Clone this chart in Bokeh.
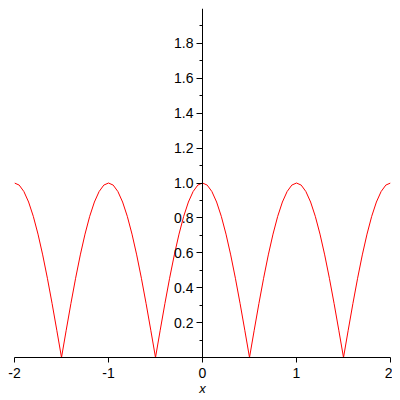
from bokeh.plotting import figure
from bokeh.models import LinearAxis, FixedTicker
from bokeh.embed import file_html
from bokeh.resources import INLINE

# curve values (x step 0.05 from -2 to 2)
xs = [round(-2 + 0.05 * i, 2) for i in range(81)]
period = [1.0, 0.988, 0.951, 0.891, 0.809, 0.707, 0.588, 0.454, 0.309, 0.156, 0.0,
          0.156, 0.309, 0.454, 0.588, 0.707, 0.809, 0.891, 0.951, 0.988]
ys = period * 4 + [1.0]

x_ticks = [-2, -1, 0, 1, 2]
x_labels = ["-2", "-1", "0", "1", "2"]
y_ticks = [0.2, 0.4, 0.6, 0.8, 1.0, 1.2, 1.4, 1.6, 1.8]
y_labels = ["0.2", "0.4", "0.6", "0.8", "1.0", "1.2", "1.4", "1.6", "1.8"]
y_minor = [0.1, 0.3, 0.5, 0.7, 0.9, 1.1, 1.3, 1.5, 1.7, 1.9]

FONT = "Liberation Sans"

p = figure(frame_width=376, frame_height=349, x_range=(-2, 2), y_range=(0, 2),
           output_backend="svg", toolbar_location=None, y_axis_location=None,
           min_border_left=14, min_border_right=2, min_border_top=8, min_border_bottom=0)
p.grid.visible = False
p.outline_line_color = None
p.background_fill_color = "white"
p.border_fill_color = "white"

p.line(xs, ys, line_color="#ff0000", line_width=1)

xa = p.xaxis[0]
xa.ticker = FixedTicker(ticks=x_ticks, minor_ticks=[])
xa.major_label_overrides = dict(zip(x_ticks, x_labels))
xa.major_tick_out = 5
xa.major_tick_in = 0
xa.minor_tick_out = 0
xa.minor_tick_in = 0
xa.axis_line_color = "black"
xa.major_tick_line_color = "black"
xa.major_label_text_font = FONT
xa.major_label_text_font_size = "14px"
xa.major_label_text_color = "black"
xa.major_label_standoff = 5
xa.axis_label = "x"
xa.axis_label_text_font = FONT
xa.axis_label_text_font_style = "italic"
xa.axis_label_text_font_size = "13px"
xa.axis_label_text_color = "black"
xa.axis_label_standoff = 0

ya = LinearAxis(fixed_location=0)
ya.ticker = FixedTicker(ticks=y_ticks, minor_ticks=y_minor)
ya.major_label_overrides = dict(zip(y_ticks, y_labels))
ya.major_tick_out = 6
ya.major_tick_in = 0
ya.minor_tick_out = 3
ya.minor_tick_in = 0
ya.axis_line_color = "black"
ya.major_tick_line_color = "black"
ya.minor_tick_line_color = "black"
ya.major_label_text_font = FONT
ya.major_label_text_font_size = "14px"
ya.major_label_text_color = "black"
ya.major_label_standoff = 3
p.add_layout(ya, "left")

open("out.html", "w").write(file_html(p, INLINE))
